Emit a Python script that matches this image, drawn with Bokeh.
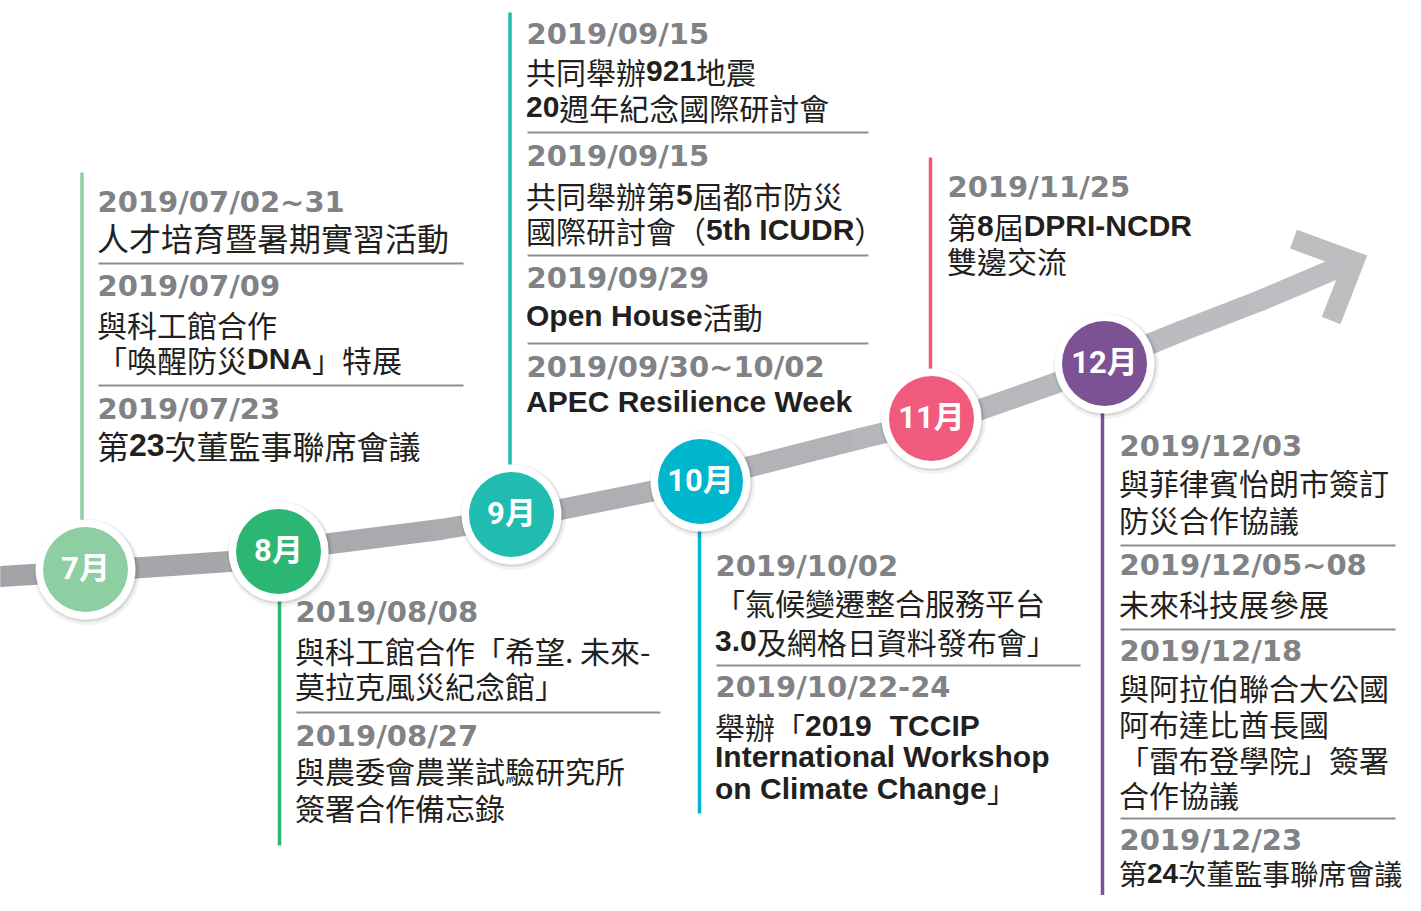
import re
from bokeh.plotting import figure
from bokeh.models import Range1d, ColumnDataSource
from bokeh.core.properties import value
from bokeh.embed import file_html
from bokeh.resources import INLINE

# ---------------- data ----------------
months = ["7月", "8月", "9月", "10月", "11月", "12月"]

dates_jul = ["2019/07/02~31", "2019/07/09", "2019/07/23"]
texts_jul = [["人才培育暨暑期實習活動"],
             ["與科工館合作", "「喚醒防災**DNA**」特展"],
             ["第**23**次董監事聯席會議"]]
dates_aug = ["2019/08/08", "2019/08/27"]
texts_aug = [["與科工館合作「希望. 未來-", "莫拉克風災紀念館」"],
             ["與農委會農業試驗研究所", "簽署合作備忘錄"]]
dates_sep = ["2019/09/15", "2019/09/15", "2019/09/29", "2019/09/30~10/02"]
texts_sep = [["共同舉辦**921**地震", "**20**週年紀念國際研討會"],
             ["共同舉辦第**5**屆都市防災", "國際研討會（**5th ICUDR**）"],
             ["**Open House**活動"],
             ["**APEC Resilience Week**"]]
dates_oct = ["2019/10/02", "2019/10/22-24"]
texts_oct = [["「氣候變遷整合服務平台", "**3.0**及網格日資料發布會」"],
             ["舉辦「**2019**  **TCCIP**", "**International Workshop**", "**on Climate Change**」"]]
dates_nov = ["2019/11/25"]
texts_nov = [["第**8**屆**DPRI-NCDR**", "雙邊交流"]]
dates_dec = ["2019/12/03", "2019/12/05~08", "2019/12/18", "2019/12/23"]
texts_dec = [["與菲律賓怡朗市簽訂", "防災合作協議"],
             ["未來科技展參展"],
             ["與阿拉伯聯合大公國", "阿布達比酋長國", "「雷布登學院」簽署", "合作協議"],
             ["第**24**次董監事聯席會議"]]

all_dates = [dates_jul, dates_aug, dates_sep, dates_oct, dates_nov, dates_dec]
all_texts = [texts_jul, texts_aug, texts_sep, texts_oct, texts_nov, texts_dec]

# ---------------- layout / style ----------------
month_colors = ["#8dcea2", "#2cb673", "#20bcb0", "#00b6cc", "#f05a7d", "#7c5294"]
circle_x = [85, 278, 511, 700, 931, 1104]
circle_y = [569, 551, 514, 481, 418, 363]
stem_x = [81.5, 279, 509.5, 699, 930, 1102]
stem_top = [172, 580, 12, 500, 157, 390]
stem_bottom = [540, 845, 490, 813, 400, 900]
text_x = [98, 296, 527, 716, 948, 1120]
rule_right = [463, 660, 868, 1080, 1080, 1395]
baselines = [
    [213, 249, 297, 335, 370, 420, 457],
    [623, 661, 696, 747, 781, 818],
    [45, 82, 118, 167, 206, 241, 289, 327, 378, 413],
    [577, 613, 652, 698, 737, 768, 800],
    [198, 237, 271],
    [457, 493, 530, 576, 614, 662, 698, 734, 770, 805, 851, 884],
]
rule_y = [[263, 385], [712], [132, 255, 343], [665], [], [545, 629, 818]]
size_override = {(0, 1): 32, (0, 6): 32, (5, 11): 28}
BASELINE_SHIFT = 0.4   # em, compensates the renderer's alphabetic-baseline offset

band_x = [-10, 0, 135, 229, 278, 330, 440, 560, 650, 750, 860, 980, 1054, 1153, 1180, 1260, 1345]
band_y = [577, 576, 567.5, 561, 552, 543, 529, 509, 491, 466, 438, 409, 383, 342, 331, 300, 264]
chev_x = [1293, 1353.7, 1330.6]
chev_y = [238.7, 260.9, 320]

DATE_COLOR = "#808285"
TEXT_COLOR = "#231f20"
CJK_FONT = "Noto Sans CJK TC"
BOLD_FONT = "Liberation Sans"
DATE_FONT = "DejaVu Sans"
DATE_SIZE = 29

BOLD_W = {" ": 278, "-": 333, ".": 278, "A": 722, "C": 722, "D": 722, "E": 667, "H": 722,
          "I": 278, "K": 722, "N": 722, "O": 778, "P": 667, "R": 722, "T": 611, "U": 722,
          "W": 944, "a": 556, "c": 556, "e": 556, "g": 611, "h": 611, "i": 278, "k": 556,
          "l": 278, "m": 889, "n": 611, "o": 611, "p": 611, "r": 389, "s": 556, "t": 333,
          "u": 611}
for d in "0123456789":
    BOLD_W[d] = 556
REG_W = {" ": 300, ".": 276, "-": 340}


def segments(s):
    out = []
    for part in re.split(r"(\*\*.*?\*\*)", s):
        if not part:
            continue
        if part.startswith("**"):
            out.append((part[2:-2], True))
        else:
            out.append((part, False))
    return out


def seg_width(t, bold, size):
    w = 0.0
    for ch in t:
        if bold:
            w += BOLD_W.get(ch, 600) / 1000 * size
        elif ord(ch) > 0x2000:
            w += size
        else:
            w += REG_W.get(ch, 500) / 1000 * size
    return w


# ---------------- figure ----------------
p = figure(width=1405, height=895, x_range=Range1d(0, 1405), y_range=Range1d(895, 0),
           output_backend="svg", toolbar_location=None, min_border=0,
           x_axis_location=None, y_axis_location=None)
p.grid.visible = False
p.outline_line_color = None
p.background_fill_color = "white"
p.border_fill_color = "white"

# gray timeline band with light gradient
c0 = (160, 162, 166)
c1 = (190, 191, 194)
bxs, bys, bcols = [], [], []
for i in range(len(band_x) - 1):
    bxs.append([band_x[i], band_x[i + 1]])
    bys.append([band_y[i], band_y[i + 1]])
    t = min(max(((band_x[i] + band_x[i + 1]) / 2) / 1345, 0), 1)
    col = tuple(int(round(a + (b - a) * t)) for a, b in zip(c0, c1))
    bcols.append("#%02x%02x%02x" % col)
p.multi_line(xs=bxs, ys=bys, line_color=bcols, line_width=21, line_cap="round", line_join="round")
p.line(chev_x, chev_y, line_color="#bcbec0", line_width=20, line_join="miter", line_cap="butt")

# stems
p.segment(x0=stem_x, y0=stem_top, x1=stem_x, y1=stem_bottom, line_color=month_colors, line_width=3.5)

# circles
p.circle(x=[x + 1.5 for x in circle_x], y=[y + 2.5 for y in circle_y], radius=53,
         fill_color="black", fill_alpha=0.05, line_color=None)
p.circle(x=[x + 1 for x in circle_x], y=[y + 1.5 for y in circle_y], radius=51,
         fill_color="black", fill_alpha=0.10, line_color=None)
p.circle(x=circle_x, y=circle_y, radius=50, fill_color="white", line_color=None)
p.circle(x=circle_x, y=circle_y, radius=42.5, fill_color=month_colors, line_color=None)
p.text(x=circle_x, y=[y + 11 - BASELINE_SHIFT * 31 for y in circle_y], text=months, text_align="center",
       text_baseline="alphabetic", text_color="white", text_font_size="31px",
       text_font=value("Roboto, Noto Sans CJK TC"), text_font_style="bold")

# texts
date_src = dict(x=[], y=[], text=[])
cjk_src = dict(x=[], y=[], text=[], fs=[])
bold_src = dict(x=[], y=[], text=[], fs=[])
rx0, rx1, ry = [], [], []
for b in range(6):
    x0 = text_x[b]
    k = 0
    for e, d in enumerate(all_dates[b]):
        if e > 0:
            rx0.append(x0)
            rx1.append(rule_right[b])
            ry.append(rule_y[b][e - 1])
        date_src["x"].append(x0 - 1)
        date_src["y"].append(baselines[b][k] - BASELINE_SHIFT * DATE_SIZE)
        date_src["text"].append(d)
        k += 1
        for line in all_texts[b][e]:
            fs = size_override.get((b, k), 30)
            cx = x0 - 1.5
            for seg, bold in segments(line):
                src = bold_src if bold else cjk_src
                src["x"].append(cx)
                src["y"].append(baselines[b][k] - BASELINE_SHIFT * fs)
                src["text"].append(seg)
                src["fs"].append("%gpx" % fs)
                cx += seg_width(seg, bold, fs)
            k += 1

p.segment(x0=rx0, y0=ry, x1=rx1, y1=ry, line_color="#8c8d90", line_width=1.8)

p.text(x="x", y="y", text="text", source=ColumnDataSource(date_src), text_color=DATE_COLOR,
       text_font=value(DATE_FONT), text_font_style="bold", text_font_size="%dpx" % DATE_SIZE,
       text_baseline="alphabetic", text_align="left")
p.text(x="x", y="y", text="text", source=ColumnDataSource(cjk_src), text_color=TEXT_COLOR,
       text_font=value(CJK_FONT), text_font_size="fs",
       text_baseline="alphabetic", text_align="left")
p.text(x="x", y="y", text="text", source=ColumnDataSource(bold_src), text_color=TEXT_COLOR,
       text_font=value(BOLD_FONT), text_font_style="bold", text_font_size="fs",
       text_baseline="alphabetic", text_align="left")

open("out.html", "w").write(file_html(p, INLINE))
